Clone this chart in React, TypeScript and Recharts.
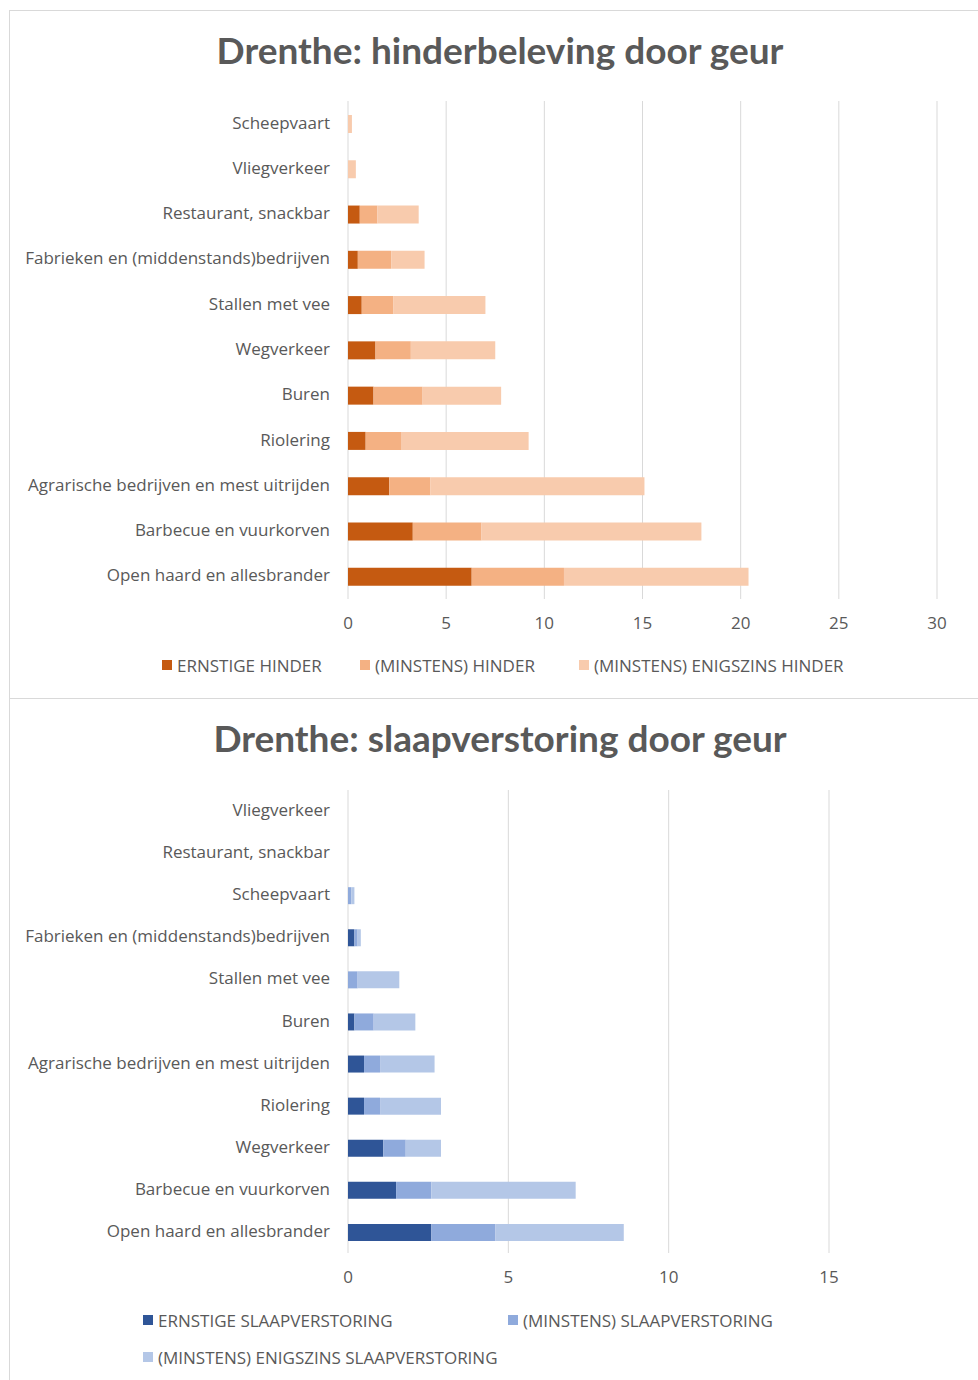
import { BarChart, Bar, XAxis, YAxis, CartesianGrid } from "recharts";

const hinderCategories = [
  "Scheepvaart",
  "Vliegverkeer",
  "Restaurant, snackbar",
  "Fabrieken en (middenstands)bedrijven",
  "Stallen met vee",
  "Wegverkeer",
  "Buren",
  "Riolering",
  "Agrarische bedrijven en mest uitrijden",
  "Barbecue en vuurkorven",
  "Open haard en allesbrander",
];
const ernstigeHinder = [0, 0, 0.6, 0.5, 0.7, 1.4, 1.3, 0.9, 2.1, 3.3, 6.3];
const minstensHinder = [0, 0, 1.5, 2.2, 2.3, 3.2, 3.8, 2.7, 4.2, 6.8, 11.0];
const enigszinsHinder = [0.2, 0.4, 3.6, 3.9, 7.0, 7.5, 7.8, 9.2, 15.1, 18.0, 20.4];
const hinderTicks = [0, 5, 10, 15, 20, 25, 30];
const hinderLegend = ["ERNSTIGE HINDER", "(MINSTENS) HINDER", "(MINSTENS) ENIGSZINS HINDER"];

const slaapCategories = [
  "Vliegverkeer",
  "Restaurant, snackbar",
  "Scheepvaart",
  "Fabrieken en (middenstands)bedrijven",
  "Stallen met vee",
  "Buren",
  "Agrarische bedrijven en mest uitrijden",
  "Riolering",
  "Wegverkeer",
  "Barbecue en vuurkorven",
  "Open haard en allesbrander",
];
const ernstigeSlaap = [0, 0, 0, 0.2, 0, 0.2, 0.5, 0.5, 1.1, 1.5, 2.6];
const minstensSlaap = [0, 0, 0.1, 0.3, 0.3, 0.8, 1.0, 1.0, 1.8, 2.6, 4.6];
const enigszinsSlaap = [0, 0, 0.2, 0.4, 1.6, 2.1, 2.7, 2.9, 2.9, 7.1, 8.6];
const slaapTicks = [0, 5, 10, 15];
const slaapLegend = ["ERNSTIGE SLAAPVERSTORING", "(MINSTENS) SLAAPVERSTORING", "(MINSTENS) ENIGSZINS SLAAPVERSTORING"];

const orange = ["#c55a11", "#f4b183", "#f8cbad"];
const blue = ["#2f5597", "#8faadc", "#b4c7e7"];

const txt = "#595959";
const font = "'Open Sans', sans-serif";

// the three series are nested (ernstig <= minstens <= enigszins), so stack the differences
function buildRows(cats: string[], a: number[], b: number[], c: number[]) {
  return cats.map((name, i) => ({
    name,
    s1: a[i],
    s2: Math.max(0, b[i] - a[i]),
    s3: Math.max(0, c[i] - Math.max(a[i], b[i])),
  }));
}

type PanelProps = {
  top: number;
  height: number;
  title: string;
  rows: ReturnType<typeof buildRows>;
  ticks: number[];
  colors: string[];
  margin: { top: number; right: number; bottom: number; left: number };
  barSize: number;
  legend: string[];
  legendPos: { x: number; y: number }[];
};

function Panel(p: PanelProps) {
  return (
    <div style={{ position: "absolute", left: 9, top: p.top, width: 969, height: p.height, borderTop: "1px solid #d9d9d9", borderLeft: "1px solid #d9d9d9", background: "#fff" }}>
      <div style={{ position: "absolute", left: 0, width: 980, top: 17, textAlign: "center", fontFamily: "Lato, sans-serif", fontWeight: 700, fontSize: 37, color: txt, lineHeight: "44px" }}>
        {p.title}
      </div>
      <BarChart width={968} height={p.height} data={p.rows} layout="vertical" margin={p.margin} barSize={p.barSize}>
        <CartesianGrid horizontal={false} stroke="#d9d9d9" />
        <XAxis type="number" domain={[p.ticks[0], p.ticks[p.ticks.length - 1]]} ticks={p.ticks} axisLine={false} tickLine={false} tickSize={0} tickMargin={18}
          tick={{ fill: txt, fontSize: 17, fontFamily: font }} interval={0} />
        <YAxis type="category" dataKey="name" width={338} axisLine={false} tickLine={false} tickSize={0} tickMargin={18}
          tick={{ fill: txt, fontSize: 17, fontFamily: font, dy: -1 }} interval={0} />
        <Bar dataKey="s1" stackId="a" fill={p.colors[0]} isAnimationActive={false} />
        <Bar dataKey="s2" stackId="a" fill={p.colors[1]} isAnimationActive={false} />
        <Bar dataKey="s3" stackId="a" fill={p.colors[2]} isAnimationActive={false} />
      </BarChart>
      {p.legend.map((label, i) => (
        <div key={label} style={{ position: "absolute", left: p.legendPos[i].x, top: p.legendPos[i].y - 11, height: 22, display: "flex", alignItems: "center", fontFamily: font, fontSize: 17, color: txt, whiteSpace: "nowrap" }}>
          <span style={{ display: "inline-block", width: 10, height: 10, background: p.colors[i], marginRight: 5 }} />
          {label}
        </div>
      ))}
    </div>
  );
}

export default function App() {
  return (
    <div style={{ position: "absolute", left: 0, top: 0, width: 978, height: 1380 }}>
      <Panel
        top={10}
        height={687}
        title="Drenthe: hinderbeleving door geur"
        rows={buildRows(hinderCategories, ernstigeHinder, minstensHinder, enigszinsHinder)}
        ticks={hinderTicks}
        colors={orange}
        margin={{ top: 90, right: 41, bottom: 69, left: 0 }}
        barSize={18}
        legend={hinderLegend}
        legendPos={[{ x: 152, y: 654 }, { x: 350, y: 654 }, { x: 569, y: 654 }]}
      />
      <Panel
        top={698}
        height={682}
        title="Drenthe: slaapverstoring door geur"
        rows={buildRows(slaapCategories, ernstigeSlaap, minstensSlaap, enigszinsSlaap)}
        ticks={slaapTicks}
        colors={blue}
        margin={{ top: 91, right: 149, bottom: 98, left: 0 }}
        barSize={17}
        legend={slaapLegend}
        legendPos={[{ x: 133, y: 621 }, { x: 498, y: 621 }, { x: 133, y: 658 }]}
      />
    </div>
  );
}
